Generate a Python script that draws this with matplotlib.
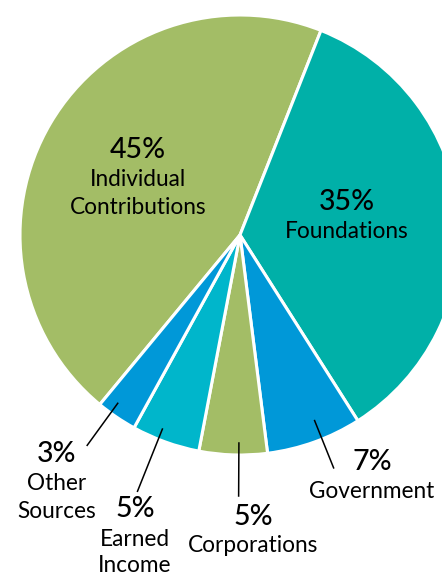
#!/usr/bin/env python3
"""
Funding sources pie chart
"""
import numpy as np
import matplotlib
matplotlib.use("Agg")
import matplotlib.pyplot as plt

# Data
categories = ["Individual\nContributions", "Foundations", "Government",
              "Corporations", "Earned\nIncome", "Other\nSources"]
shares = [45, 35, 7, 5, 5, 3]
colors = ["#a3bd66", "#00b0a8", "#0098d8", "#a3bd66", "#00b6cb", "#0098d8"]

W, H = 442, 575
CX, CY, R = 240, 235, 220      # pie centre / radius in pixels (y from top)
START = 21.6 - 162             # first slice edge, degrees clockwise from top

plt.rcParams["font.family"] = ["Lato", "DejaVu Sans"]

fig = plt.figure(figsize=(W / 100, H / 100), dpi=100)
ax = fig.add_axes([0, 0, 1, 1])
ax.pie(shares, colors=colors, startangle=90 - START, counterclock=False,
       center=(CX, H - CY), radius=R,
       wedgeprops=dict(edgecolor="white", linewidth=2.2))
ax.set_xlim(0, W)
ax.set_ylim(0, H)
ax.set_aspect("equal")
ax.axis("off")

# mid angle of each slice, clockwise from top
edges = START + np.cumsum([0] + shares) * 3.6
mids = (edges[:-1] + edges[1:]) / 2


def polar(angle, r):
    a = np.radians(angle)
    return CX + r * np.sin(a), H - (CY - r * np.cos(a))


def label(i, x, y_pct, y_lines):
    ax.text(x, H - y_pct, f"{shares[i]}%", ha="center", va="center",
            fontsize=20.5, fontweight="medium", color="black", zorder=5)
    for line, y in zip(categories[i].split("\n"), y_lines):
        ax.text(x, H - y, line, ha="center", va="center",
                fontsize=16.3, color="black", zorder=5)


# labels inside the pie
label(0, 138, 150, [180, 208])
label(1, 347, 202, [232])

# small slices: leader lines (angle offset, inner r, outer r) and labels
leaders = {2: (-2.1, 200, 251), 3: (-1.5, 208, 261),
           4: (2.0, 209, 276), 5: (1.8, 208, 260)}
for i, (da, r0, r1) in leaders.items():
    x0, y0 = polar(mids[i] + da, r0)
    x1, y1 = polar(mids[i] + da, r1)
    ax.plot([x0, x1], [y0, y1], color="black", linewidth=1.1, zorder=4)

label(2, 372, 462, [491])
label(3, 253, 517, [546])
label(4, 135, 509, [540, 566])
label(5, 57, 454, [484, 511])

fig.savefig("out.png", dpi=100)
